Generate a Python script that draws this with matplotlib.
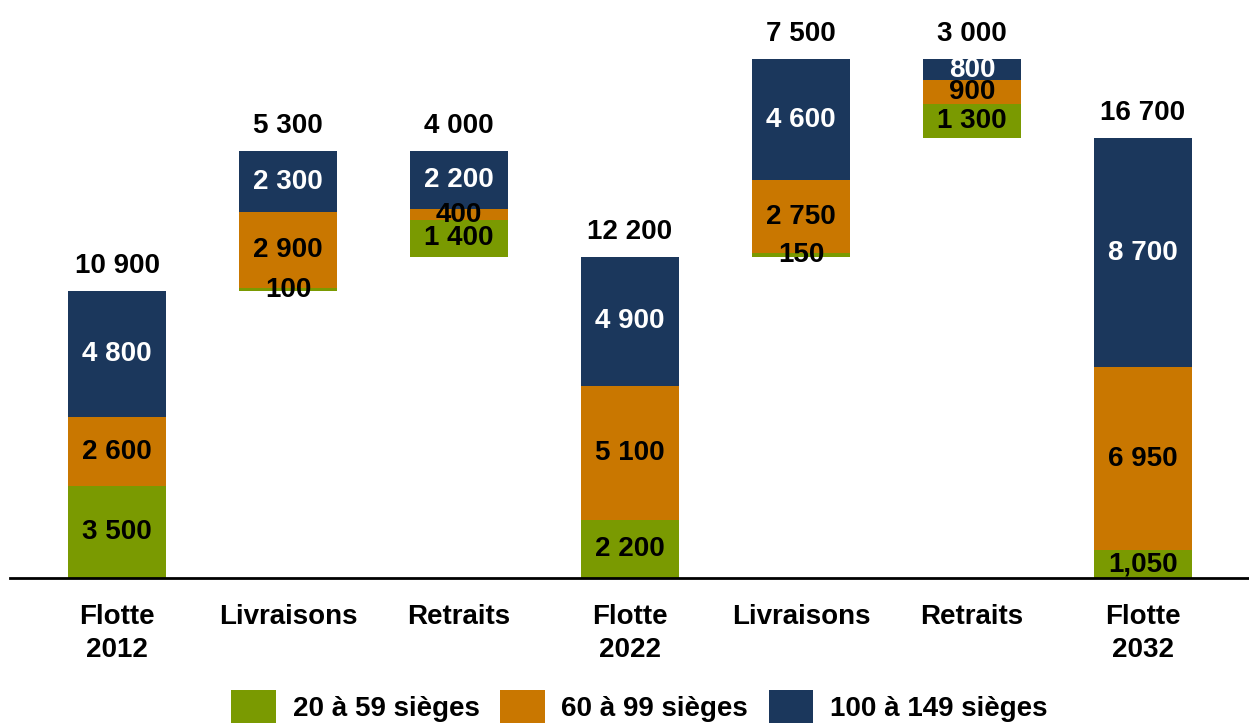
import numpy as np
import matplotlib.pyplot as plt

plt.rcParams['font.family'] = ['Liberation Sans', 'DejaVu Sans']
plt.rcParams['font.weight'] = 'bold'

# data
categories = ["Flotte\n2012", "Livraisons", "Retraits", "Flotte\n2022",
              "Livraisons", "Retraits", "Flotte\n2032"]
series_names = ["20 à 59 sièges", "60 à 99 sièges", "100 à 149 sièges"]
small = [3500, 100, 1400, 2200, 150, 1300, 1050]
medium = [2600, 2900, 400, 5100, 2750, 900, 6950]
large = [4800, 2300, 2200, 4900, 4600, 800, 8700]
# bar kind: 0 = fleet, +1 = deliveries, -1 = retirements
kind = [0, 1, -1, 0, 1, -1, 0]
total_labels = ["10 900", "5 300", "4 000", "12 200", "7 500", "3 000", "16 700"]
seg_labels = [
    ["3 500", "100", "1 400", "2 200", "150", "1 300", "1,050"],
    ["2 600", "2 900", "400", "5 100", "2 750", "900", "6 950"],
    ["4 800", "2 300", "2 200", "4 900", "4 600", "800", "8 700"],
]

colors = ["#7a9a01", "#c97700", "#1b375c"]
text_colors = ["black", "black", "white"]

# waterfall bases
totals = np.array(small) + np.array(medium) + np.array(large)
bases = []
level = 0
for t, k in zip(totals, kind):
    if k == 0:
        bases.append(0)
        level = t
    elif k == 1:
        bases.append(level)
        level = level + t
    else:
        level = level - t
        bases.append(level)
bases = np.array(bases)

fig = plt.figure(figsize=(12.49, 7.23), dpi=100)
ax = fig.add_axes([10 / 1249, 145 / 723, 1 - 10 / 1249, 578 / 723])

x = np.arange(len(categories))
w = 0.573
bottom = bases.astype(float)
for vals, col, tc, labs, name in zip([small, medium, large], colors, text_colors,
                                     seg_labels, series_names):
    vals = np.array(vals)
    ax.bar(x, vals, w, bottom=bottom, color=col, label=name, edgecolor='none')
    for xi, b, v, lab in zip(x, bottom, vals, labs):
        ax.text(xi, b + v / 2, lab, ha='center', va='center', color=tc,
                fontsize=20, fontweight='bold')
    bottom = bottom + vals

for xi, top, lab in zip(x, bottom, total_labels):
    ax.annotate(lab, (xi, top), xytext=(0, 13), textcoords='offset points',
                ha='center', va='baseline', fontsize=20, fontweight='bold')

ax.set_xlim(-0.626, 6.62)
ax.set_ylim(0, 21950)
ax.set_xticks(x)
ax.set_xticklabels(categories, fontsize=20, fontweight='bold', linespacing=1.35)
ax.tick_params(axis='x', length=0, pad=19)
ax.set_yticks([])
for s in ['top', 'right', 'left']:
    ax.spines[s].set_visible(False)
ax.spines['bottom'].set_linewidth(2)

fig.legend(loc='lower center', bbox_to_anchor=(0.512, -0.016), ncol=3,
           frameon=False, fontsize=20, handlelength=1.6, handleheight=1.45,
           handletextpad=0.6, columnspacing=0.75, borderaxespad=0)

fig.savefig("out.png", dpi=100)
